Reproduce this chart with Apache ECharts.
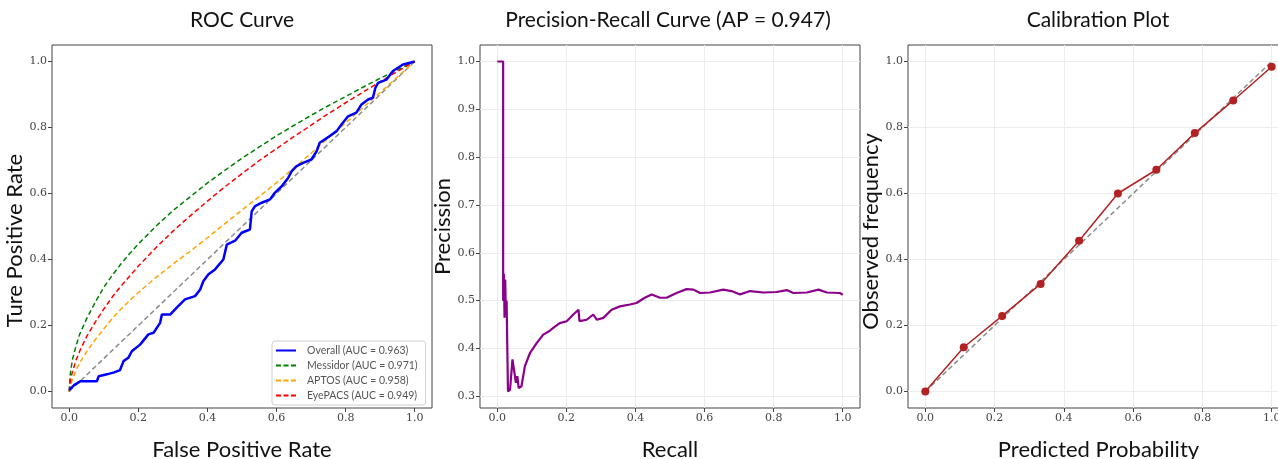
<!DOCTYPE html>
<html>
<head>
<meta charset="utf-8">
<title>ROC / PR / Calibration</title>
<script src="https://cdn.jsdelivr.net/npm/echarts@6/dist/echarts.min.js"></script>
<style>
  html, body { margin: 0; padding: 0; background: #fff; }
  #chart { width: 1278px; height: 459px; }
</style>
</head>
<body>
<div id="chart"></div>
<script>
// values
const diagonal = [[0, 0], [1, 1]]
const unitTicks = [0, 0.2, 0.4, 0.6, 0.8, 1.0]
const precisionTicks = [0.3, 0.4, 0.5, 0.6, 0.7, 0.8, 0.9, 1.0]

const rocNames = ['Overall (AUC = 0.963)', 'Messidor (AUC = 0.971)', 'APTOS (AUC = 0.958)', 'EyePACS (AUC = 0.949)']
const rocOverall = [
  [0, 0.005], [0.003, 0.011], [0.015, 0.02], [0.032, 0.031], [0.08, 0.031], [0.085, 0.046], [0.109, 0.052],
  [0.13, 0.058], [0.147, 0.065], [0.157, 0.092], [0.171, 0.102], [0.181, 0.122], [0.205, 0.142],
  [0.229, 0.173], [0.244, 0.178], [0.263, 0.208], [0.268, 0.233], [0.292, 0.233], [0.311, 0.254],
  [0.335, 0.279], [0.364, 0.289], [0.379, 0.309], [0.388, 0.334], [0.403, 0.355], [0.422, 0.37],
  [0.446, 0.4], [0.456, 0.445], [0.48, 0.457], [0.499, 0.481], [0.523, 0.491], [0.528, 0.546],
  [0.538, 0.562], [0.557, 0.572], [0.581, 0.582], [0.595, 0.602], [0.615, 0.622], [0.634, 0.648],
  [0.644, 0.668], [0.658, 0.683], [0.677, 0.693], [0.701, 0.703], [0.716, 0.728], [0.725, 0.754],
  [0.74, 0.764], [0.754, 0.774], [0.774, 0.789], [0.788, 0.809], [0.807, 0.834], [0.831, 0.845],
  [0.846, 0.87], [0.865, 0.885], [0.879, 0.89], [0.886, 0.92], [0.894, 0.935], [0.918, 0.945],
  [0.937, 0.971], [0.966, 0.991], [0.986, 0.996], [1, 1]
]
const rocMessidor = [
  [0, 0], [0.002, 0.045], [0.005, 0.07], [0.01, 0.1], [0.02, 0.14], [0.03, 0.173], [0.05, 0.22],
  [0.075, 0.27], [0.1, 0.316], [0.125, 0.353], [0.15, 0.387], [0.175, 0.418], [0.2, 0.447],
  [0.25, 0.5], [0.3, 0.548], [0.35, 0.59], [0.4, 0.632], [0.45, 0.67], [0.5, 0.707], [0.55, 0.741],
  [0.6, 0.775], [0.65, 0.806], [0.7, 0.837], [0.75, 0.866], [0.8, 0.894], [0.85, 0.922],
  [0.9, 0.949], [0.95, 0.975], [1, 1]
]
const rocAptos = [
  [0, 0], [0.005, 0.025], [0.01, 0.04], [0.02, 0.065], [0.03, 0.087], [0.05, 0.12], [0.075, 0.157],
  [0.1, 0.19], [0.125, 0.222], [0.15, 0.25], [0.175, 0.276], [0.2, 0.3], [0.25, 0.345],
  [0.3, 0.386], [0.35, 0.425], [0.4, 0.466], [0.45, 0.508], [0.5, 0.55], [0.55, 0.591],
  [0.6, 0.633], [0.65, 0.677], [0.7, 0.722], [0.75, 0.768], [0.8, 0.814], [0.85, 0.86],
  [0.9, 0.906], [0.95, 0.953], [1, 1]
]
const rocEyepacs = [
  [0, 0], [0.002, 0.024], [0.005, 0.042], [0.01, 0.063], [0.02, 0.096], [0.03, 0.122], [0.05, 0.166],
  [0.075, 0.21], [0.1, 0.25], [0.125, 0.287], [0.15, 0.32], [0.175, 0.35], [0.2, 0.38],
  [0.25, 0.435], [0.3, 0.486], [0.35, 0.532], [0.4, 0.577], [0.45, 0.62], [0.5, 0.66],
  [0.55, 0.7], [0.6, 0.736], [0.65, 0.772], [0.7, 0.807], [0.75, 0.842], [0.8, 0.875],
  [0.85, 0.907], [0.9, 0.939], [0.95, 0.97], [1, 1]
]

const prCurve = [
  [0, 1.0], [0.017, 1.0], [0.017, 0.5], [0.019, 0.556], [0.021, 0.464], [0.023, 0.544], [0.025, 0.467],
  [0.027, 0.5], [0.031, 0.5], [0.031, 0.31], [0.037, 0.314], [0.044, 0.377], [0.048, 0.377],
  [0.054, 0.328], [0.058, 0.342], [0.062, 0.317], [0.07, 0.321], [0.08, 0.363], [0.095, 0.391],
  [0.114, 0.411], [0.133, 0.429], [0.15, 0.436], [0.162, 0.443], [0.181, 0.453], [0.201, 0.457],
  [0.22, 0.471], [0.235, 0.481], [0.238, 0.457], [0.259, 0.46], [0.278, 0.471], [0.288, 0.46],
  [0.307, 0.464], [0.331, 0.481], [0.355, 0.488], [0.384, 0.492], [0.403, 0.495], [0.427, 0.506],
  [0.447, 0.513], [0.471, 0.506], [0.49, 0.506], [0.519, 0.516], [0.548, 0.524], [0.568, 0.523],
  [0.587, 0.516], [0.616, 0.517], [0.654, 0.523], [0.678, 0.52], [0.703, 0.513], [0.732, 0.52],
  [0.77, 0.517], [0.809, 0.518], [0.838, 0.522], [0.857, 0.516], [0.896, 0.517], [0.93, 0.523],
  [0.954, 0.517], [0.992, 0.516], [1.0, 0.512]
]

const calibPredicted = [0, 0.111, 0.222, 0.333, 0.444, 0.556, 0.667, 0.778, 0.889, 1.0]
const calibObserved = [0.0, 0.134, 0.229, 0.326, 0.457, 0.6, 0.672, 0.783, 0.882, 0.984]

const sansFont = 'Lato'
const tickFont = 'DejaVu Serif'
// legend samples: solid bar, and three dashes like matplotlib '--'
const solidIcon = 'path://M0,0h20v2h-20z'
const dashIcon = 'path://M0,0h5v2h-5zM7.5,0h5v2h-5zM15,0h5v2h-5z'

function makeAxis (gridIndex, min, max, ticks, opts) {
  return {
    type: 'value',
    gridIndex,
    min,
    max,
    name: opts.name,
    nameLocation: 'middle',
    nameGap: opts.nameGap,
    nameTextStyle: { fontFamily: sansFont, fontSize: 22, color: '#111', padding: opts.namePad || 0 },
    axisLine: { show: false, onZero: false },
    axisTick: { show: true, inside: false, length: 4, customValues: ticks, lineStyle: { color: '#444' } },
    axisLabel: {
      customValues: ticks,
      margin: 5,
      fontFamily: tickFont,
      fontSize: 11,
      color: '#444',
      formatter: v => v.toFixed(1)
    },
    splitLine: { show: !!opts.grid, lineStyle: { color: '#ececec', width: 1 } }
  }
}

function dashedLine (name, data, color, xi) {
  return {
    name,
    type: 'line',
    xAxisIndex: xi,
    yAxisIndex: xi,
    data,
    symbol: 'none',
    silent: true,
    lineStyle: { color, width: 1.5, type: [5, 3] },
    itemStyle: { color },
    z: 3
  }
}

function buildOption () {
  const gridBox = {
    top: 45,
    height: 363,
    show: true,
    borderColor: '#444',
    borderWidth: 1,
    backgroundColor: 'transparent',
    outerBoundsMode: 'none',
    containLabel: false
  }
  return {
    animation: false,
    title: [
      { text: 'ROC Curve', left: 242, top: 10 },
      { text: 'Precision-Recall Curve (AP = 0.947)', left: 668, top: 10 },
      { text: 'Calibration Plot', left: 1098, top: 10 }
    ].map(t => Object.assign(t, {
      textAlign: 'center',
      padding: 0,
      textStyle: { fontFamily: sansFont, fontSize: 21, fontWeight: 'normal', color: '#111' }
    })),
    grid: [
      Object.assign({ left: 52, width: 380 }, gridBox),
      Object.assign({ left: 480, width: 380 }, gridBox),
      Object.assign({ left: 908, width: 381 }, gridBox)
    ],
    xAxis: [
      makeAxis(0, -0.05, 1.05, unitTicks, { name: 'False Positive Rate', nameGap: 31 }),
      makeAxis(1, -0.05, 1.05, unitTicks, { name: 'Recall', nameGap: 31, grid: true }),
      makeAxis(2, -0.05, 1.05, unitTicks, { name: 'Predicted Probability', nameGap: 31, grid: true })
    ],
    yAxis: [
      makeAxis(0, -0.05, 1.05, unitTicks, { name: 'Ture Positive Rate', nameGap: 22, namePad: [0, 28, 0, 0] }),
      makeAxis(1, 0.2755, 1.0345, precisionTicks, { name: 'Precission', nameGap: 22, grid: true }),
      makeAxis(2, -0.05, 1.05, unitTicks, { name: 'Observed frequency', nameGap: 24, grid: true, namePad: [0, 10, 0, 0] })
    ],
    legend: {
      data: [
        { name: rocNames[0], icon: solidIcon },
        { name: rocNames[1], icon: dashIcon },
        { name: rocNames[2], icon: dashIcon },
        { name: rocNames[3], icon: dashIcon }
      ],
      orient: 'vertical',
      left: 272,
      top: 341,
      itemWidth: 20,
      itemHeight: 2,
      itemGap: 4,
      padding: [4, 8, 4, 4],
      borderColor: '#d0d0d0',
      borderWidth: 1,
      borderRadius: 3,
      backgroundColor: '#fff',
      textStyle: { fontFamily: sansFont, fontSize: 10.5, color: '#555', padding: [0, 0, 0, 6] }
    },
    series: [
      // ROC
      Object.assign(dashedLine('chance', diagonal, '#8c8c8c', 0), { z: 2 }),
      {
        name: rocNames[0],
        type: 'line',
        xAxisIndex: 0,
        yAxisIndex: 0,
        data: rocOverall,
        symbol: 'none',
        silent: true,
        lineStyle: { color: '#0000ff', width: 2.5 },
        itemStyle: { color: '#0000ff' },
        z: 4
      },
      dashedLine(rocNames[1], rocMessidor, '#008000', 0),
      dashedLine(rocNames[2], rocAptos, '#ffa500', 0),
      dashedLine(rocNames[3], rocEyepacs, '#ff0000', 0),
      // PR
      {
        name: 'pr',
        type: 'line',
        xAxisIndex: 1,
        yAxisIndex: 1,
        data: prCurve,
        symbol: 'none',
        silent: true,
        lineStyle: { color: '#8b008b', width: 2.2 },
        itemStyle: { color: '#8b008b' }
      },
      // calibration
      Object.assign(dashedLine('perfect', diagonal, '#8c8c8c', 2), { z: 2 }),
      {
        name: 'calibration',
        type: 'line',
        xAxisIndex: 2,
        yAxisIndex: 2,
        data: calibPredicted.map((x, i) => [x, calibObserved[i]]),
        symbol: 'circle',
        symbolSize: 8,
        silent: true,
        lineStyle: { color: '#b22222', width: 1.5 },
        itemStyle: { color: '#b22222' },
        z: 4
      }
    ]
  }
}

const myChart = echarts.init(document.getElementById('chart'), null, { renderer: 'canvas' })
myChart.setOption(buildOption())
</script>
</body>
</html>
